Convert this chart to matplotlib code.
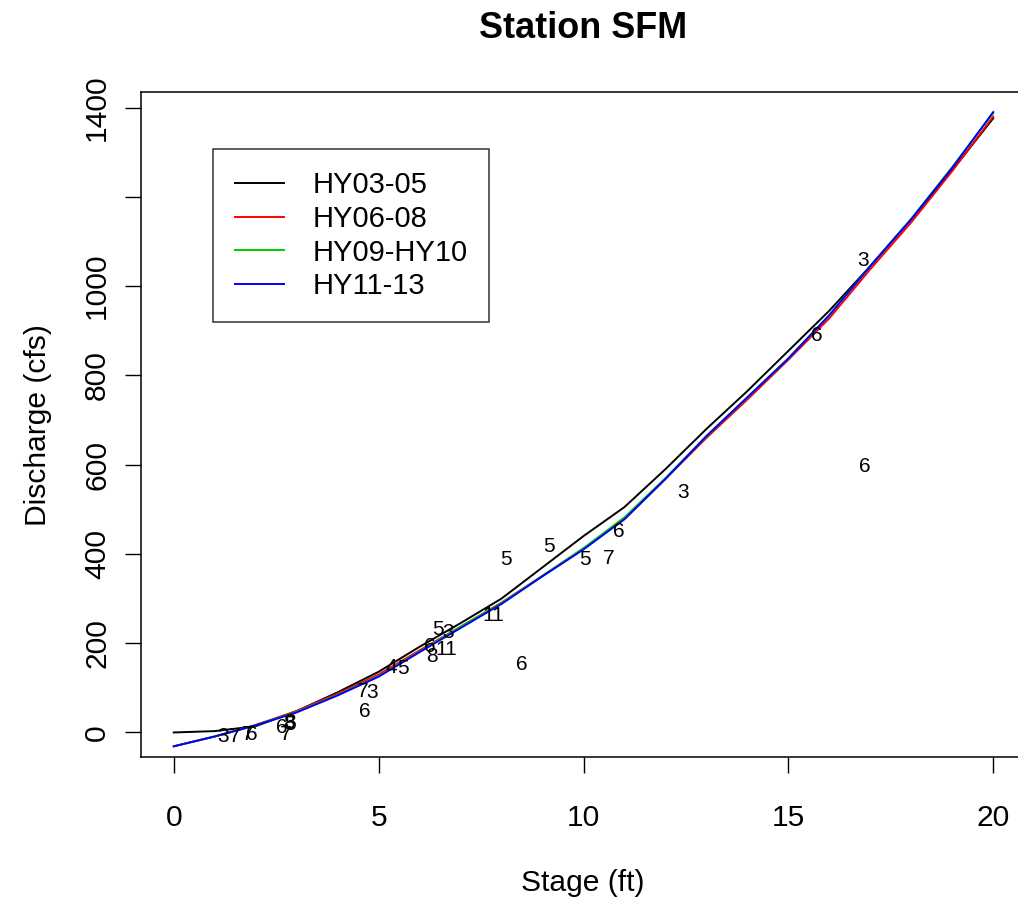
import matplotlib
matplotlib.use("Agg")
import matplotlib.pyplot as plt

plt.rcParams['font.family'] = ['Liberation Sans', 'DejaVu Sans']

# ---- data ----
stage = [0, 1, 2, 3, 4, 5, 6, 7, 8, 9, 10, 11, 12, 13, 14, 15, 16, 17, 18, 19, 20]
q_hy03_05 = [0, 3, 14, 48, 90, 136, 192, 245, 300, 370, 440, 505, 590, 680, 765, 855, 945, 1045, 1150, 1260, 1376]
q_hy06_08 = [-31, -9, 17, 48, 87, 130, 184, 237, 291, 351, 412, 478, 568, 660, 746, 835, 928, 1038, 1143, 1258, 1380]
q_hy09_10 = [-31, -9, 16, 46, 84, 126, 181, 237, 290, 351, 413, 482, 570, 664, 751, 838, 935, 1045, 1151, 1267, 1388]
q_hy11_13 = [-31, -9, 16, 45, 83, 125, 180, 234, 288, 350, 410, 478, 568, 664, 751, 838, 935, 1045, 1150, 1265, 1390]
series_names = ['HY03-05', 'HY06-08', 'HY09-HY10', 'HY11-13']
series_colors = ['black', '#FF0000', '#00CD00', '#0000FF']

obs_stage = [1.20, 1.49, 1.81, 1.90, 2.63, 2.81, 2.83, 2.83, 2.73, 4.61, 4.85, 4.66, 5.32, 5.59,
             6.45, 6.70, 6.25, 6.66, 6.29, 7.80, 8.49, 8.11, 9.16, 10.04, 10.61, 10.85, 12.43,
             15.70, 16.83, 16.87]
obs_q = [-10, -9, -5, -5, 10, 20, 22, 18, -5, 92, 89, 48, 145, 143,
         230, 224, 193, 186, 171, 261, 152, 387, 417, 387, 389, 450, 537,
         890, 1058, 597]
obs_label = ['3', '7', '7', '6', '6', '8', '3', '5', '7', '7', '3', '6', '4', '5',
             '5', '3', '6', '11', '8', '11', '6', '5', '5', '5', '7', '6', '3',
             '6', '3', '6']

x_ticks = [0, 5, 10, 15, 20]
y_ticks = [0, 200, 400, 600, 800, 1000, 1200, 1400]
y_ticklabels = ['0', '200', '400', '600', '800', '1000', '', '1400']

W, H = 1018, 901
fig = plt.figure(figsize=(W / 100, H / 100), dpi=100)
L, R, T, B = 141, 1026, 92, 757
ax = fig.add_axes([L / W, 1 - B / H, (R - L) / W, (B - T) / H])

for q, name, c in zip([q_hy03_05, q_hy06_08, q_hy09_10, q_hy11_13], series_names, series_colors):
    ax.plot(stage, q, color=c, lw=1.4, label=name)

for s, q, t in zip(obs_stage, obs_q, obs_label):
    ax.text(s, q, t, ha='center', va='center', fontsize=15, color='black')

ax.set_xlim(-0.8, 20.8)
ax.set_ylim(-55, 1435)
ax.set_xticks(x_ticks)
ax.set_xticklabels([str(v) for v in x_ticks])
ax.set_yticks(y_ticks)
ax.set_yticklabels(y_ticklabels, rotation=90, va='center')
ax.tick_params(axis='both', direction='out', length=11.5, width=1.0, labelsize=21.6, color='black')
ax.tick_params(axis='x', pad=22)
ax.tick_params(axis='y', pad=10)
for sp in ax.spines.values():
    sp.set_linewidth(1.1)
    sp.set_color('black')

leg = ax.legend(loc='upper left', bbox_to_anchor=(213 / W, 1 - 149 / H), bbox_transform=fig.transFigure,
                borderaxespad=0, fontsize=21, frameon=True, fancybox=False, edgecolor='black',
                handlelength=1.7, handletextpad=0.95, borderpad=0.75, labelspacing=0.2)
leg.get_frame().set_linewidth(1.1)

fig.text(583 / W, 1 - 28 / H, 'Station SFM', ha='center', va='center', fontsize=25.9, fontweight='bold')
fig.text(583 / W, 1 - 883 / H, 'Stage (ft)', ha='center', va='center', fontsize=21.6)
fig.text(38 / W, 1 - 425 / H, 'Discharge (cfs)', ha='center', va='center', fontsize=21.6, rotation=90)

fig.savefig('out.png', dpi=100)
